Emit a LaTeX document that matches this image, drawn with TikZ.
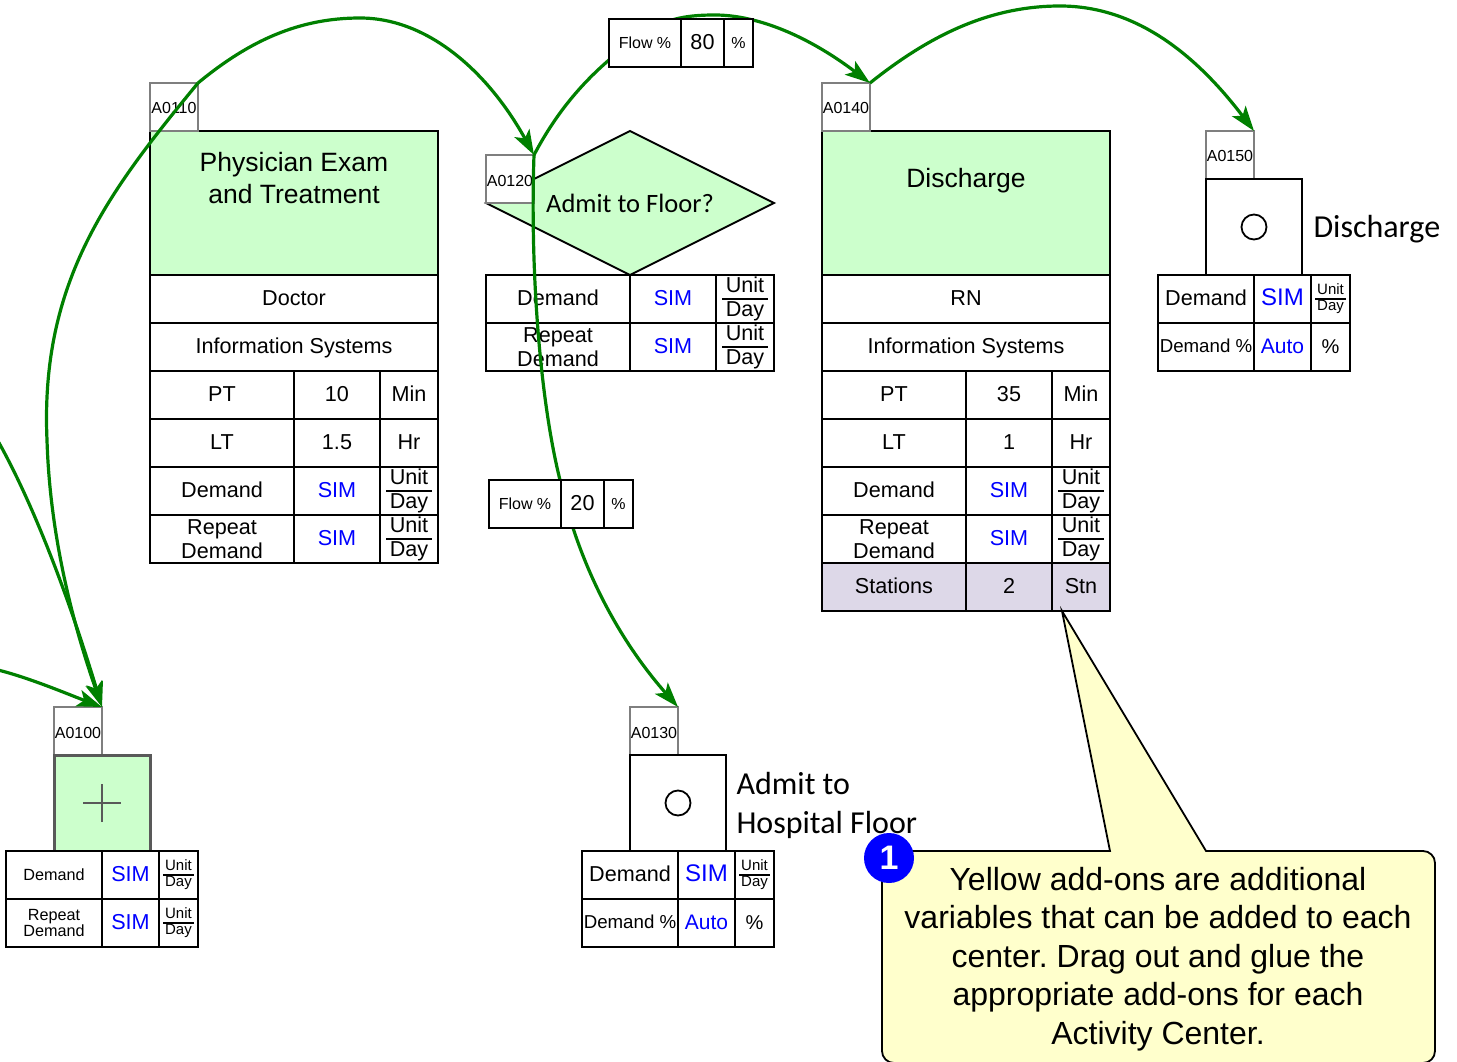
\documentclass[tikz,border=0pt]{standalone}
\usepackage{fontspec}
\setmainfont{Liberation Sans}
\newfontfamily\carlito{Carlito}
\frenchspacing
\usetikzlibrary{positioning,shapes.geometric,arrows.meta}
\definecolor{centergreen}{HTML}{CCFFCC}
\definecolor{stationgray}{HTML}{DDD8E8}
\definecolor{noteyellow}{HTML}{FFFFCC}
\definecolor{flowgreen}{HTML}{008000}
\definecolor{simblue}{HTML}{0000FF}
\definecolor{taggray}{HTML}{7F7F7F}
\definecolor{plusgray}{HTML}{595959}
\tikzset{
	sz/.style 2 args={font=\fontsize{#1}{#2}\selectfont},
	cell/.style={draw=black, line width=1.8pt, fill=white, anchor=north west, outer sep=0pt, inner sep=0pt, align=center, minimum width=#1pt, minimum height=48pt, sz={21.6}{24}, text height=16pt, text depth=2.5pt},
	minor/.style={sz={#1}{16}, text height=13pt, text depth=2pt},
	twoline/.style={text height=, text depth=},
	sim/.style={text=simblue},
	unitday/.style={twoline, path picture={\draw[line width=1.8pt] ([xshift=#1pt]path picture bounding box.west) -- ([xshift=-#1pt]path picture bounding box.east);}},
	tagbox/.style={draw=taggray, line width=1.6pt, fill=white, anchor=north west, outer sep=0pt, inner sep=0pt, minimum size=48pt, sz={16}{16}, text height=14pt, text depth=0pt},
	endbox/.style={draw=black, line width=1.8pt, fill=white, anchor=north west, outer sep=0pt, minimum size=96pt},
	endmark/.style={circle, draw=black, line width=1.8pt, inner sep=0pt, minimum size=25pt},
	flow/.style={draw=flowgreen, line width=3.2pt, -{Stealth[length=25pt,width=17pt,inset=6pt]}},
	blocktitle/.style={align=center, sz={26.5}{32}},
	endlabel/.style={anchor=west, align=left, font=\carlito\fontsize{32}{39}\selectfont},
}
\begin{document}
\begin{tikzpicture}[x=1pt,y=-1pt]
	\useasboundingbox (0,0) rectangle (1457,1062);

	% Physician exam center
	\node[cell=288, fill=centergreen, minimum height=144pt] (exam) at (150,131) {};
	\node[blocktitle] (examtitle) at (exam.center) [yshift=25pt] {Physician Exam\\and Treatment};
	\node[tagbox] (a0110) at (150,83) {A0110};
	\node[cell=288] (examres) at (150,275) {Doctor};
	\node[cell=288] (examsys) at (150,323) {Information Systems};
	\node[cell=144] (exampt) at (150,371) {PT};
	\node[cell=86] (examptv) at (294,371) {10};
	\node[cell=58] (examptu) at (380,371) {Min};
	\node[cell=144] (examlt) at (150,419) {LT};
	\node[cell=86] (examltv) at (294,419) {1.5};
	\node[cell=58] (examltu) at (380,419) {Hr};
	\node[cell=144] (examdem) at (150,467) {Demand};
	\node[cell=86, sim] (examdemv) at (294,467) {SIM};
	\node[cell=58, unitday=6] (examdemu) at (380,467) {Unit\\Day};
	\node[cell=144, twoline] (examrep) at (150,515) {Repeat\\Demand};
	\node[cell=86, sim] (examrepv) at (294,515) {SIM};
	\node[cell=58, unitday=6] (examrepu) at (380,515) {Unit\\Day};

	% Admit decision
	\node[diamond, draw=black, line width=1.8pt, fill=centergreen, aspect=2, outer sep=0pt, inner sep=0pt, minimum width=288pt, minimum height=144pt] (admit) at (630,203) {};
	\node[font=\carlito\fontsize{26.5}{32}\selectfont] (admittitle) at (admit.center) {Admit to Floor?};
	\node[tagbox] (a0120) at (486,155) {A0120};
	\node[cell=144] (admitdem) at (486,275) {Demand};
	\node[cell=86, sim] (admitdemv) at (630,275) {SIM};
	\node[cell=58, unitday=6] (admitdemu) at (716,275) {Unit\\Day};
	\node[cell=144, twoline] (admitrep) at (486,323) {Repeat\\Demand};
	\node[cell=86, sim] (admitrepv) at (630,323) {SIM};
	\node[cell=58, unitday=6] (admitrepu) at (716,323) {Unit\\Day};

	% Discharge center
	\node[cell=288, fill=centergreen, minimum height=144pt] (disc) at (822,131) {};
	\node[blocktitle] (disctitle) at (disc.center) [yshift=22pt] {Discharge};
	\node[tagbox] (a0140) at (822,83) {A0140};
	\node[cell=288] (discres) at (822,275) {RN};
	\node[cell=288] (discsys) at (822,323) {Information Systems};
	\node[cell=144] (discpt) at (822,371) {PT};
	\node[cell=86] (discptv) at (966,371) {35};
	\node[cell=58] (discptu) at (1052,371) {Min};
	\node[cell=144] (disclt) at (822,419) {LT};
	\node[cell=86] (discltv) at (966,419) {1};
	\node[cell=58] (discltu) at (1052,419) {Hr};
	\node[cell=144] (discdem) at (822,467) {Demand};
	\node[cell=86, sim] (discdemv) at (966,467) {SIM};
	\node[cell=58, unitday=6] (discdemu) at (1052,467) {Unit\\Day};
	\node[cell=144, twoline] (discrep) at (822,515) {Repeat\\Demand};
	\node[cell=86, sim] (discrepv) at (966,515) {SIM};
	\node[cell=58, unitday=6] (discrepu) at (1052,515) {Unit\\Day};
	\node[cell=144, fill=stationgray] (discstn) at (822,563) {Stations};
	\node[cell=86, fill=stationgray] (discstnv) at (966,563) {2};
	\node[cell=58, fill=stationgray] (discstnu) at (1052,563) {Stn};

	% Exit: discharge
	\node[tagbox] (a0150) at (1206,131) {A0150};
	\node[endbox] (outdisc) at (1206,179) {};
	\node[endmark] (outdiscmark) at (outdisc.center) {};
	\node[endlabel] (outdisclabel) at (1310,229) {Discharge};
	\node[cell=96] (outdem) at (1158,275) {Demand};
	\node[cell=57, sim, sz={24}{24}] (outdemv) at (1254,275) {SIM};
	\node[cell=39, sz={15}{16}, unitday=4] (outdemu) at (1311,275) {Unit\\Day};
	\node[cell=96, minor=18.7] (outpct) at (1158,323) {Demand \%};
	\node[cell=57, sim, sz={21}{24}] (outpctv) at (1254,323) {Auto};
	\node[cell=39, sz={20}{24}] (outpctu) at (1311,323) {\%};

	% Exit: hospital floor
	\node[tagbox] (a0130) at (630,707) {A0130};
	\node[endbox] (floor) at (630,755) {};
	\node[endmark] (floormark) at (floor.center) {};
	\node[endlabel] (floorlabel) at (733,805) {Admit to\\Hospital Floor};
	\node[cell=96] (floordem) at (582,851) {Demand};
	\node[cell=57, sim, sz={24}{24}] (floordemv) at (678,851) {SIM};
	\node[cell=39, sz={15}{16}, unitday=4] (floordemu) at (735,851) {Unit\\Day};
	\node[cell=96, minor=18.7] (floorpct) at (582,899) {Demand \%};
	\node[cell=57, sim, sz={21}{24}] (floorpctv) at (678,899) {Auto};
	\node[cell=39, sz={20}{24}] (floorpctu) at (735,899) {\%};

	% Arrival
	\node[tagbox] (a0100) at (54,707) {A0100};
	\node[endbox, draw=plusgray, line width=3pt, fill=centergreen] (start) at (54,755) {};
	\draw[plusgray, line width=2.6pt] ([xshift=-19pt]start.center) -- ([xshift=19pt]start.center);
	\draw[plusgray, line width=2.6pt] ([yshift=-19pt]start.center) -- ([yshift=19pt]start.center);
	\node[cell=96, minor=16.2] (startdem) at (6,851) {Demand};
	\node[cell=57, sim] (startdemv) at (102,851) {SIM};
	\node[cell=39, sz={15}{16}, unitday=4] (startdemu) at (159,851) {Unit\\Day};
	\node[cell=96, twoline, sz={16.2}{16}] (startrep) at (6,899) {Repeat\\Demand};
	\node[cell=57, sim] (startrepv) at (102,899) {SIM};
	\node[cell=39, sz={15}{16}, unitday=4] (startrepu) at (159,899) {Unit\\Day};

	% Incoming ends on the page edge
	\coordinate (entrya) at (-2,441);
	\coordinate (entryb) at (-2,670);

	% Connecting lines
	\draw[flow] (a0110.north east) .. controls (110,190) and (40,280) .. (47,440) .. controls (50,540) and (75,630) .. (a0100.north east);
	\draw[flow] (entrya) .. controls (30,498) and (65,585) .. (a0100.north east);
	\draw[flow] (entryb) .. controls (30,678) and (70,695) .. (a0100.north east);
	\draw[flow] (a0110.north east) .. controls (250,40) and (300,18) .. (360,18) .. controls (430,18) and (490,75) .. (a0120.north east);
	\draw[flow] (a0120.north east) .. controls (555,115) and (580,85) .. (609,60) .. controls (650,20) and (680,15) .. (715,15) .. controls (750,15) and (800,30) .. (a0140.north east);
	\draw[flow] (a0120.north east) .. controls (530,270) and (540,400) .. (560,480) .. controls (575,550) and (610,630) .. (a0130.north east);
	\draw[flow] (a0140.north east) .. controls (930,35) and (990,6) .. (1060,6) .. controls (1140,6) and (1200,60) .. (a0150.north east);

	% Flow boxes sit over the lines
	\node[cell=72, minor=16] (flowa) at (609,19) {Flow \%};
	\node[cell=43] (flowav) at (681,19) {80};
	\node[cell=29, minor=16] (flowau) at (724,19) {\%};
	\node[cell=72, minor=16] (flowb) at (489,480) {Flow \%};
	\node[cell=43] (flowbv) at (561,480) {20};
	\node[cell=29, minor=16] (flowbu) at (604,480) {\%};

	% Yellow note
	\coordinate (notetip) at (1062,611);
	\draw[draw=black, line width=1.8pt, fill=noteyellow] (1110,851) -- (notetip) -- (1206,851) [rounded corners=12pt] -- (1435,851) -- (1435,1063) -- (882,1063) -- (882,851) [sharp corners] -- cycle;
	\node[align=center, inner sep=0pt, sz={32}{38.5}] (notetext) at (1158,959) {Yellow add-ons are additional\\variables that can be added to each\\center. Drag out and glue the\\appropriate add-ons for each\\Activity Center.};
	\node[circle, fill=simblue, text=white, inner sep=0pt, minimum size=50pt, sz={34}{34}] (badge) at (889,858) {\textbf{1}};
\end{tikzpicture}
\end{document}
